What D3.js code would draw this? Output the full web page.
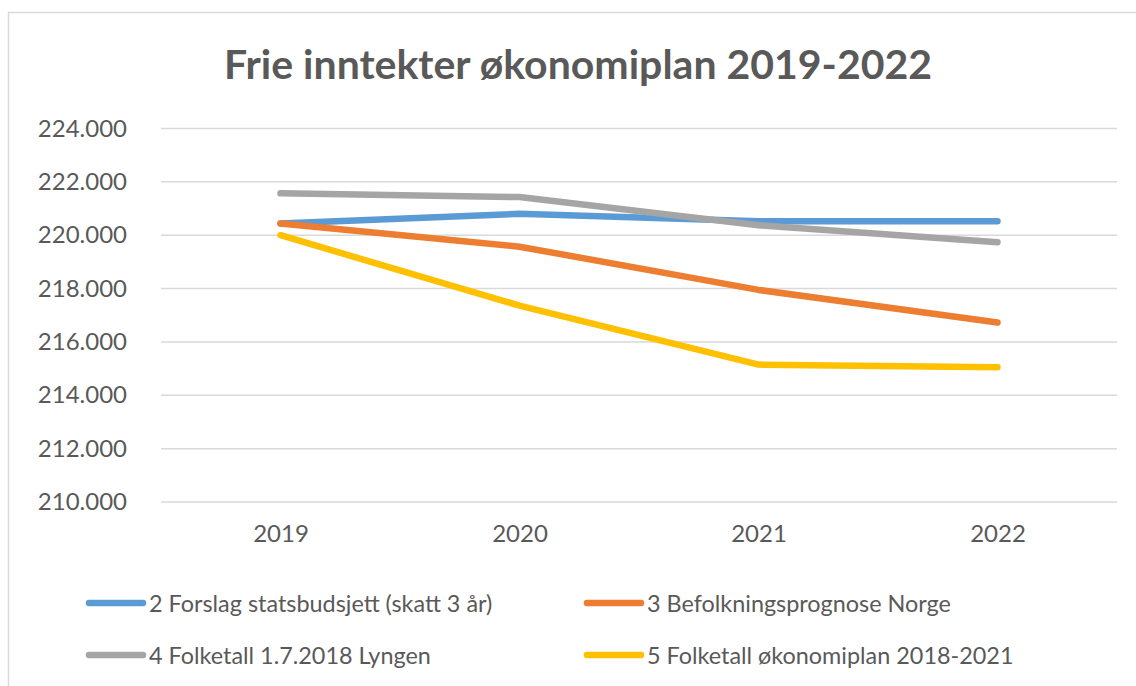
<!DOCTYPE html>
<html>
<head>
<meta charset="utf-8">
<script src="https://cdn.jsdelivr.net/npm/d3@7"></script>
<style>
  html, body { margin: 0; padding: 0; background: #fff; }
  svg { display: block; font-family: Lato, "Open Sans", sans-serif; }
</style>
</head>
<body>
<svg id="chart" width="1136" height="686"></svg>
<script>
// chart data
const years = ["2019", "2020", "2021", "2022"];
const seriesNames = [
  "2 Forslag statsbudsjett (skatt 3 år)",
  "3 Befolkningsprognose Norge",
  "4 Folketall 1.7.2018 Lyngen",
  "5 Folketall økonomiplan 2018-2021"
];
const forslag = [220440, 220800, 220520, 220520];
const befolkning = [220440, 219570, 217950, 216730];
const folketallLyngen = [221570, 221430, 220370, 219740];
const folketallPlan = [220000, 217360, 215150, 215050];
const yTicks = [210000, 212000, 214000, 216000, 218000, 220000, 222000, 224000];
const colors = ["#5B9BD5", "#ED7D31", "#A5A5A5", "#FFC000"];

const series = [forslag, befolkning, folketallLyngen, folketallPlan].map((vals, i) => ({
  name: seriesNames[i],
  color: colors[i],
  values: vals.map((v, j) => ({ year: years[j], value: v }))
}));

const svg = d3.select("#chart");
const textColor = "#595959";

const no = d3.formatLocale({ decimal: ",", thousands: ".", grouping: [3], currency: ["kr ", ""] });
const fmt = no.format(",.0f");

// outer frame (right/bottom edges run off the picture)
svg.append("rect")
  .attr("x", 8.5).attr("y", 12.5)
  .attr("width", 1150).attr("height", 700)
  .attr("fill", "none")
  .attr("stroke", "#d9d9d9")
  .attr("stroke-width", 1.5);

// title
svg.append("text")
  .attr("x", 578).attr("y", 79)
  .attr("text-anchor", "middle")
  .attr("fill", textColor)
  .style("font-size", "41px")
  .style("font-weight", "bold")
  .text("Frie inntekter økonomiplan 2019-2022");

const x = d3.scalePoint().domain(years).range([161, 1117]).padding(0.5);
const y = d3.scaleLinear().domain([210000, 224000]).range([502, 128.5]);

// gridlines
svg.append("g")
  .selectAll("line")
  .data(yTicks)
  .enter().append("line")
  .attr("x1", 161).attr("x2", 1117)
  .attr("y1", d => y(d)).attr("y2", d => y(d))
  .attr("stroke", "#d9d9d9")
  .attr("stroke-width", 1.5);

// y axis labels
const yAxis = svg.append("g")
  .attr("transform", "translate(161,0)")
  .call(d3.axisLeft(y).tickValues(yTicks).tickFormat(fmt).tickSize(0).tickPadding(34));
yAxis.select(".domain").remove();
yAxis.selectAll("text")
  .attr("fill", textColor)
  .style("font-family", "Lato, 'Open Sans', sans-serif")
  .style("font-size", "24px");

// x axis labels
const xAxis = svg.append("g")
  .attr("transform", "translate(0,502)")
  .call(d3.axisBottom(x).tickSize(0).tickPadding(23));
xAxis.select(".domain").remove();
xAxis.selectAll("text")
  .attr("fill", textColor)
  .style("font-family", "Lato, 'Open Sans', sans-serif")
  .style("font-size", "24px");

// lines
const line = d3.line()
  .x(d => x(d.year))
  .y(d => y(d.value));

svg.append("g")
  .selectAll("path")
  .data(series)
  .enter().append("path")
  .attr("d", d => line(d.values))
  .attr("fill", "none")
  .attr("stroke", d => d.color)
  .attr("stroke-width", 6.5)
  .attr("stroke-linecap", "round")
  .attr("stroke-linejoin", "round");

// legend, two columns
const legendPos = [[87, 603], [585, 603], [87, 655], [585, 655]];
const legend = svg.append("g")
  .selectAll("g")
  .data(series)
  .enter().append("g")
  .attr("transform", (d, i) => `translate(${legendPos[i][0]},${legendPos[i][1]})`);

legend.append("line")
  .attr("x1", 2).attr("x2", 56)
  .attr("y1", 0).attr("y2", 0)
  .attr("stroke", d => d.color)
  .attr("stroke-width", 6.5)
  .attr("stroke-linecap", "round");

legend.append("text")
  .attr("x", 62).attr("y", 8.5)
  .attr("fill", textColor)
  .style("font-size", "23.4px")
  .text(d => d.name);
</script>
</body>
</html>
